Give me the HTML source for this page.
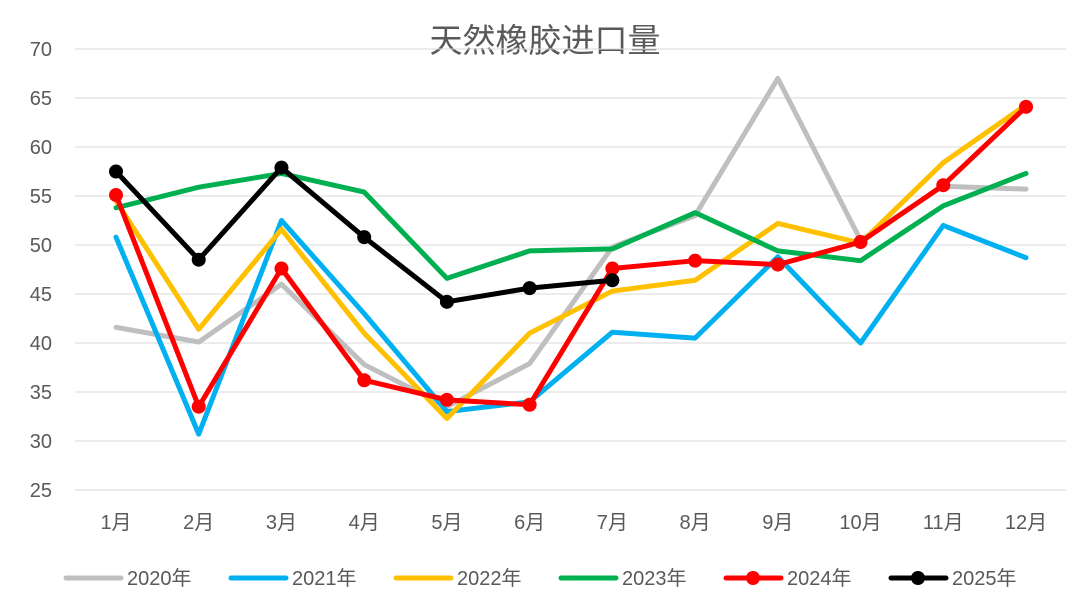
<!DOCTYPE html>
<html><head><meta charset="utf-8"><style>
body{margin:0;background:#fff;}
svg{display:block;font-family:"Liberation Sans","Noto Sans CJK SC",sans-serif;}
</style></head><body>
<svg id="c" width="1080" height="605"></svg>
<script>
const months=["1月","2月","3月","4月","5月","6月","7月","8月","9月","10月","11月","12月"];
const yTicks=[25,30,35,40,45,50,55,60,65,70];
const s2020=[41.6,40.1,46,37.8,33.5,37.9,49.8,53,67,50.5,56,55.7];
const s2021=[50.8,30.7,52.5,43,33,34,41.1,40.5,48.8,40,52,48.7];
const s2022=[54.5,41.4,51.6,41,32.3,41,45.3,46.4,52.2,50.2,58.4,64.3];
const s2023=[53.8,55.9,57.3,55.4,46.6,49.4,49.6,53.3,49.4,48.4,54,57.3];
const s2024=[55.1,33.5,47.6,36.2,34.2,33.7,47.6,48.4,48,50.3,56.1,64.1];
const s2025=[57.5,48.5,57.9,50.8,44.2,45.6,46.4];
const seriesNames=["2020年","2021年","2022年","2023年","2024年","2025年"];
const NS="http://www.w3.org/2000/svg";
const svg=document.getElementById('c');
function el(t,a,p){const e=document.createElementNS(NS,t);for(const k in a)e.setAttribute(k,a[k]);(p||svg).appendChild(e);return e;}
const x=i=>116+i*(1026-116)/11;
const y=v=>490-(v-25)*(490-49)/45;
const title=el('text',{x:545,y:52,'text-anchor':'middle','font-size':33,fill:'#595959'});
title.textContent="天然橡胶进口量";


yTicks.forEach(t=>{
  const g=el('line',{x1:75,x2:1066,y1:y(t),y2:y(t),stroke:'#d9d9d9','stroke-width':1});
  
  
  const l=el('text',{x:52,y:y(t)+7,'text-anchor':'end','font-size':20,fill:'#595959'});
  l.textContent=t;
  
  
});
months.forEach((m,i)=>{
  const l=el('text',{x:x(i),y:529,'text-anchor':'middle','font-size':20,fill:'#595959'});
  l.textContent=m;
  
  
});
const data=[s2020,s2021,s2022,s2023,s2024,s2025];
const colors=["#bfbfbf","#00b0f0","#ffc000","#00b050","#ff0000","#000000"];
const markers=[false,false,false,false,true,true];
data.forEach((d,k)=>{
  const g=el('g',{});
  
  
  const p=el('polyline',{points:d.map((v,i)=>x(i)+','+y(v)).join(' '),fill:'none',stroke:colors[k],'stroke-width':5,'stroke-linejoin':'round','stroke-linecap':'round'},g);
  
  
  if(markers[k]) d.forEach((v,i)=>{
    const c=el('circle',{cx:x(i),cy:y(v),r:7,fill:colors[k]},g);
    
    
  });
  const lx=66+k*165;
  const lg=el('g',{});
  
  
  el('line',{x1:lx,x2:lx+55,y1:578,y2:578,stroke:colors[k],'stroke-width':5,'stroke-linecap':'round'},lg);
  if(markers[k]) el('circle',{cx:lx+27,cy:578,r:7,fill:colors[k]},lg);
  const t=el('text',{x:lx+61,y:585,'font-size':20,fill:'#595959'},lg);
  t.textContent=seriesNames[k];
});
</script>
</body></html>
